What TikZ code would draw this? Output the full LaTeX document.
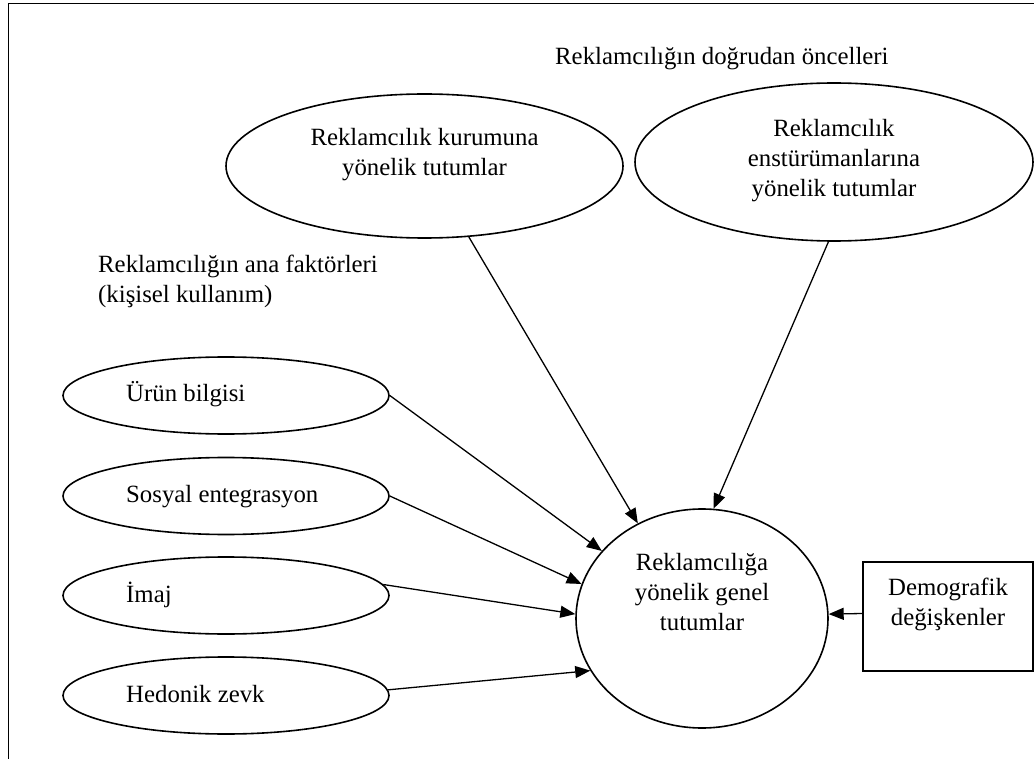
\documentclass[tikz,border=0pt]{standalone}
\usepackage{fontspec}
\setmainfont{Liberation Serif}
\usetikzlibrary{shapes.geometric,arrows.meta}
\begin{document}
\begin{tikzpicture}[x=1pt,y=-1pt,
  every node/.style={font=\fontsize{24.8}{30}\selectfont, inner sep=0pt},
  oval/.style={draw, ellipse, line width=1.6pt, inner sep=0pt},
  box/.style={draw, rectangle, line width=1.6pt, inner sep=0pt},
  txt/.style={align=center},
  conn/.style={line width=1.3pt, -{Triangle[length=15pt,width=12pt]}},
  frameline/.style={line width=1.5pt}]
\useasboundingbox (0,0) rectangle (1034,759);
\draw[frameline] (8.5,759) -- (8.5,3.3) -- (1034,3.3);

% top ellipses
\node[oval, minimum width=397pt, minimum height=144pt] (k) at (424.5,166) {};
\node[oval, minimum width=398pt, minimum height=158pt] (e) at (834,162) {};
\node[txt] (ktxt) at (424.5,154.3) {Reklamcılık kurumuna\\yönelik tutumlar};
\node[txt] (etxt) at (834,160.3) {Reklamcılık\\enstürümanlarına\\yönelik tutumlar};

% titles
\node[anchor=base west] (title) at (555,65) {Reklamcılığın doğrudan öncelleri};
\node[align=left, anchor=west] (ana) at (98,281.3) {Reklamcılığın ana faktörleri\\(kişisel kullanım)};

% small ellipses
\node[oval, minimum width=326pt, minimum height=77pt] (u) at (226,395.5) {};
\node[oval, minimum width=326pt, minimum height=77pt] (s) at (226,496) {};
\node[oval, minimum width=326pt, minimum height=77pt] (i) at (226,595.5) {};
\node[oval, minimum width=326pt, minimum height=77pt] (h) at (226,695.5) {};
\node[anchor=base west] (utxt) at (126,402) {Ürün bilgisi};
\node[anchor=base west] (stxt) at (126,502.5) {Sosyal entegrasyon};
\node[anchor=base west] (itxt) at (126,602) {İmaj};
\node[anchor=base west] (htxt) at (126,702) {Hedonik zevk};

% central ellipse
\node[oval, minimum width=252pt, minimum height=219pt] (g) at (702,618.5) {};
\node[txt] (gtxt) at (702,591.6) {Reklamcılığa\\yönelik genel\\tutumlar};

% demographic box
\node[box, minimum width=170pt, minimum height=109pt] (demo) at (948,616.5) {};
\node[txt] (dtxt) at (948,604.2) {Demografik\\değişkenler};

% connectors
\draw[conn] (k.-58) -- (g.124);
\draw[conn] (e.266) -- (g.84);
\draw[conn] (u.east) -- (g.146);
\draw[conn] (s.east) -- (g.164);
\draw[conn] (i.4) -- (g.178);
\draw[conn] (h.2) -- (g.205);
\draw[conn] (demo.178) -- (g.2);
\end{tikzpicture}
\end{document}
